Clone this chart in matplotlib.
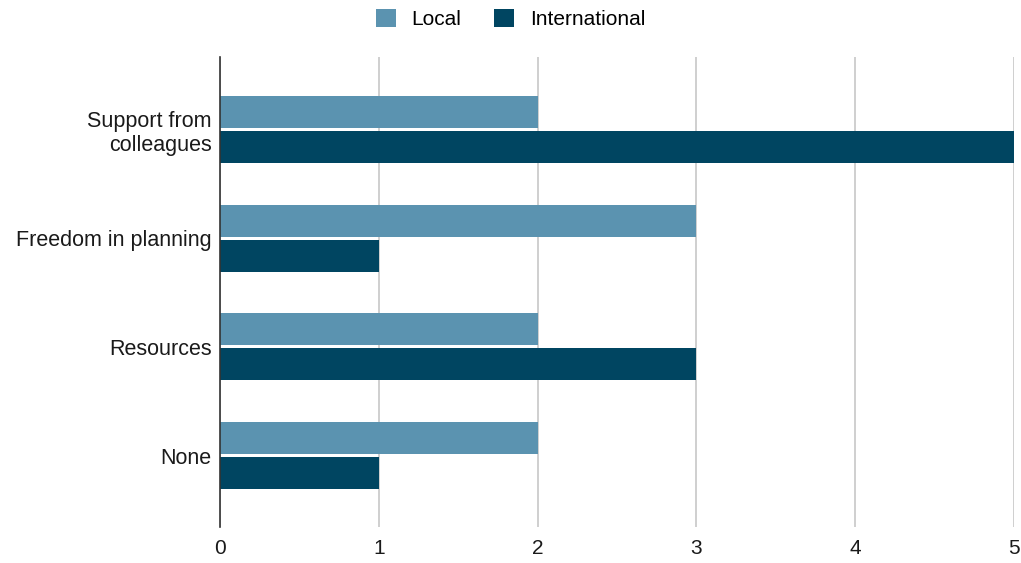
import matplotlib
matplotlib.use("Agg")
import matplotlib.pyplot as plt
import numpy as np

plt.rcParams['font.family'] = ['Liberation Sans', 'DejaVu Sans']

categories = ["Support from\ncolleagues", "Freedom in planning", "Resources", "None"]
local = [2, 3, 2, 2]
international = [5, 1, 3, 1]
series_names = ["Local", "International"]
colors = ["#5b93b0", "#004561"]
xticks = [0, 1, 2, 3, 4, 5]

fig = plt.figure(figsize=(10.21, 5.63), dpi=100)
ax = fig.add_axes([220/1021, 1-527/563, (1014-220)/1021, (527-57)/563])

y = np.arange(len(categories))
h = 0.294
gap = 0.014
ax.barh(y - h/2 - gap, local, height=h, color=colors[0], label=series_names[0], zorder=3)
ax.barh(y + h/2 + gap, international, height=h, color=colors[1], label=series_names[1], zorder=3)

ax.set_ylim(3 + 0.655, -0.665)
ax.set_xlim(0, 5)
ax.set_yticks(y)
ax.set_yticklabels(categories, fontsize=15.5, color="#1a1a1a")
ax.set_xticks(xticks)
ax.set_xticklabels([str(t) for t in xticks], fontsize=15, color="#1a1a1a")
ax.tick_params(axis='both', length=0)
ax.tick_params(axis='x', pad=9)
ax.tick_params(axis='y', pad=6)
ax.grid(axis='x', color="#cccccc", linewidth=1.3, zorder=0)
for s in ["top", "right", "bottom"]:
    ax.spines[s].set_visible(False)
ax.spines["left"].set_color("#333333")
ax.spines["left"].set_linewidth(1.2)
ax.spines["left"].set_zorder(4)

leg = fig.legend(loc="center", bbox_to_anchor=(0.5, 1-19/563), ncol=2, frameon=False,
                 fontsize=15, handlelength=0.95, handleheight=0.95, columnspacing=1.6,
                 handletextpad=0.75)
fig.savefig("out.png", dpi=100)
